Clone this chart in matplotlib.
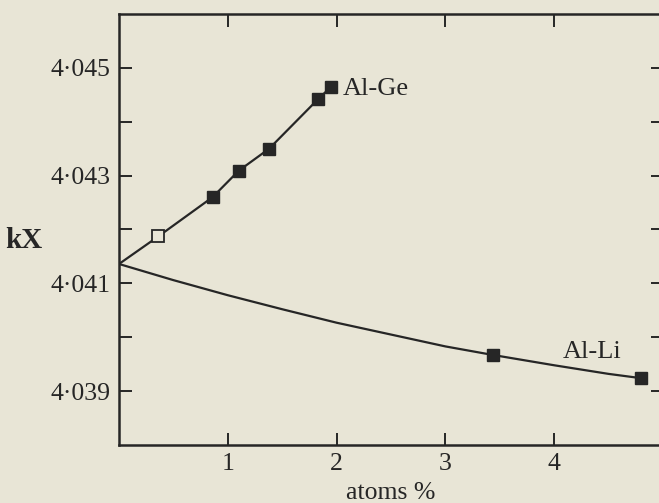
import numpy as np
import matplotlib.pyplot as plt
from matplotlib.ticker import FixedLocator, FuncFormatter

# Al-Ge: Messpunkte (erster Punkt offen)
ge_x = [0.0, 0.36, 0.86, 1.10, 1.38, 1.83, 1.945]
ge_y = [4.04136, 4.04187, 4.04260, 4.04309, 4.04350, 4.04442, 4.04464]

# Al-Li: Kurve und Messpunkte
li_curve_x = [0.0, 0.5, 1.0, 1.5, 2.0, 2.5, 3.0, 3.44, 4.0, 4.5, 4.8]
li_curve_y = [4.04136, 4.04106, 4.04078, 4.04052, 4.04027, 4.04005,
              4.03983, 4.03967, 4.03948, 4.03932, 4.03924]
li_x = [3.44, 4.80]
li_y = [4.03967, 4.03924]

x_ticks = [1, 2, 3, 4]
y_major = [4.039, 4.041, 4.043, 4.045]
y_minor = [4.040, 4.042, 4.044]

bg = '#e8e5d6'
ink = '#262626'
plt.rcParams['font.family'] = ['Liberation Serif', 'DejaVu Serif']

fig = plt.figure(figsize=(6.59, 5.03), dpi=100, facecolor=bg)
ax = fig.add_axes([0.1806, 0.1153, 1.006 - 0.1806, 0.9722 - 0.1153])
ax.set_facecolor(bg)

ax.plot(ge_x, ge_y, color=ink, lw=1.6, zorder=2)
ax.plot(ge_x[2:], ge_y[2:], 's', color=ink, ms=8, zorder=3)
ax.plot(ge_x[1], ge_y[1], 's', mfc=bg, mec=ink, mew=1.3, ms=9, zorder=3)

ax.plot(li_curve_x, li_curve_y, color=ink, lw=1.6, zorder=2)
ax.plot(li_x, li_y, 's', color=ink, ms=8, zorder=3)

ax.text(2.06, 4.04461, 'Al-Ge', fontsize=19, color=ink, va='center', ha='left')
ax.text(4.08, 4.03972, 'Al-Li', fontsize=19, color=ink, va='center', ha='left')

ax.set_xlim(0, 5)
ax.set_ylim(4.038, 4.046)

ax.xaxis.set_major_locator(FixedLocator(x_ticks))
ax.yaxis.set_major_locator(FixedLocator(y_major))
ax.yaxis.set_minor_locator(FixedLocator(y_minor))
ax.yaxis.set_major_formatter(FuncFormatter(lambda v, p: ('%.3f' % v).replace('.', '\u00b7')))

ax.tick_params(which='both', direction='in', top=True, right=True, length=9,
               width=1.4, color=ink, labelsize=18.5, labelcolor=ink, pad=6)
for s in ax.spines.values():
    s.set_linewidth(1.8)
    s.set_color(ink)

ax.set_xlabel('atoms %', fontsize=18.5, color=ink, labelpad=5)
fig.text(0.008, (503 - 241) / 503, 'kX', fontsize=21, color=ink,
         fontweight='bold', va='center', ha='left')

fig.savefig('out.png', dpi=100, facecolor=bg)
